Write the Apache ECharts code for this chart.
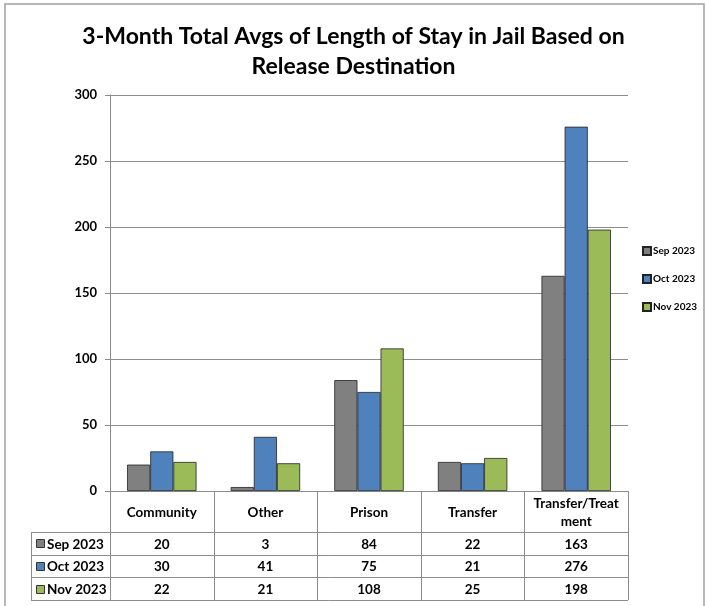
<!DOCTYPE html>
<html>
<head>
<meta charset="utf-8">
<script src="https://cdn.jsdelivr.net/npm/echarts@6/dist/echarts.min.js"></script>
<style>
  html, body { margin: 0; padding: 0; background: #fff; }
  #chart { width: 707px; height: 606px; }
</style>
</head>
<body>
<div id="chart"></div>
<script>
// data
const categories = ['Community', 'Other', 'Prison', 'Transfer', 'Transfer/Treat\nment']
const seriesNames = ['Sep 2023', 'Oct 2023', 'Nov 2023']
const sep2023 = [20, 3, 84, 22, 163]
const oct2023 = [30, 41, 75, 21, 276]
const nov2023 = [22, 21, 108, 25, 198]
const yTicks = { min: 0, max: 300, interval: 50 }

const colors = ['#808080', '#4f81bd', '#9bbb59']
const values = [sep2023, oct2023, nov2023]
const font = 'Lato, "Liberation Sans", sans-serif'

// plot area (px)
const gL = 110, gR = 628, gT = 95, gB = 491
const tableLeft = 31
const headH = 41, rowH = 22.7
const lineColor = '#8c8c8c'

const chart = echarts.init(document.getElementById('chart'))

function tableGraphics() {
  const els = []
  const colW = (gR - gL) / categories.length
  const tableBottom = gB + headH + rowH * 3
  // outer frame of whole chart
  els.push({ type: 'rect', shape: { x: 5, y: 4, width: 699, height: 640 }, style: { fill: 'none', stroke: '#a0a0a0', lineWidth: 1.5 }, silent: true })
  // column lines
  for (let i = 0; i <= categories.length; i++) {
    const x = Math.round(gL + colW * i) + 0.5
    els.push({ type: 'line', shape: { x1: x, y1: gB, x2: x, y2: tableBottom }, style: { stroke: lineColor, lineWidth: 1 } })
  }
  // row lines
  els.push({ type: 'line', shape: { x1: gL, y1: gB + 0.5, x2: gR, y2: gB + 0.5 }, style: { stroke: lineColor, lineWidth: 1 } })
  for (let r = 0; r <= 3; r++) {
    const y = Math.round(gB + headH + rowH * r) + 0.5
    els.push({ type: 'line', shape: { x1: tableLeft, y1: y, x2: gR, y2: y }, style: { stroke: lineColor, lineWidth: 1 } })
  }
  els.push({ type: 'line', shape: { x1: tableLeft + 0.5, y1: gB + headH, x2: tableLeft + 0.5, y2: tableBottom }, style: { stroke: lineColor, lineWidth: 1 } })
  // header labels
  categories.forEach((c, i) => {
    els.push({
      type: 'text', x: gL + colW * (i + 0.5), y: gB + headH / 2 + 1,
      style: { text: c, fill: '#000', font: 'bold 13.5px ' + font, align: 'center', verticalAlign: 'middle', lineHeight: 18 }
    })
  })
  // data rows
  seriesNames.forEach((name, r) => {
    const cy = gB + headH + rowH * (r + 0.5) + 1
    els.push({ type: 'rect', shape: { x: 36.5, y: Math.round(cy) - 4.5, width: 8, height: 8 }, style: { fill: colors[r], stroke: '#333', lineWidth: 1 } })
    els.push({ type: 'text', x: 47, y: cy, style: { text: name, fill: '#000', font: 'bold 13.5px ' + font, align: 'left', verticalAlign: 'middle' } })
    values[r].forEach((v, i) => {
      els.push({ type: 'text', x: gL + colW * (i + 0.5), y: cy, style: { text: String(v), fill: '#000', font: 'bold 13.5px ' + font, align: 'center', verticalAlign: 'middle' } })
    })
  })
  return els
}

chart.setOption({
  backgroundColor: '#fff',
  animation: false,
  title: {
    text: '3-Month Total Avgs of Length of Stay in Jail Based on\nRelease Destination',
    left: 'center',
    top: 17,
    textStyle: { fontFamily: font, fontWeight: 'bold', fontSize: 23, color: '#000', lineHeight: 30 }
  },
  legend: {
    orient: 'vertical',
    left: 637,
    top: 241,
    itemGap: 18,
    itemWidth: 8,
    itemHeight: 8,
    icon: 'rect',
    data: seriesNames,
    textStyle: { fontFamily: font, fontWeight: 'bold', fontSize: 10, color: '#000', padding: [0, 0, 0, -3] }
  },
  grid: { left: gL, right: 707 - gR, top: gT, bottom: 606 - gB },
  xAxis: {
    type: 'category',
    data: categories,
    axisLine: { show: false },
    axisTick: { show: false },
    axisLabel: { show: false }
  },
  yAxis: {
    type: 'value',
    min: yTicks.min,
    max: yTicks.max,
    interval: yTicks.interval,
    axisLine: { show: true, lineStyle: { color: lineColor } },
    axisTick: { show: true, length: 5, lineStyle: { color: lineColor } },
    axisLabel: { color: '#000', fontFamily: font, fontWeight: 'bold', fontSize: 13, margin: 13 },
    splitLine: { lineStyle: { color: lineColor } }
  },
  series: seriesNames.map((name, i) => ({
    name: name,
    type: 'bar',
    data: values[i],
    barGap: '0%',
    barCategoryGap: '33%',
    itemStyle: { color: colors[i], borderColor: '#222', borderWidth: 0.8 }
  })),
  graphic: tableGraphics()
})
</script>
</body>
</html>
